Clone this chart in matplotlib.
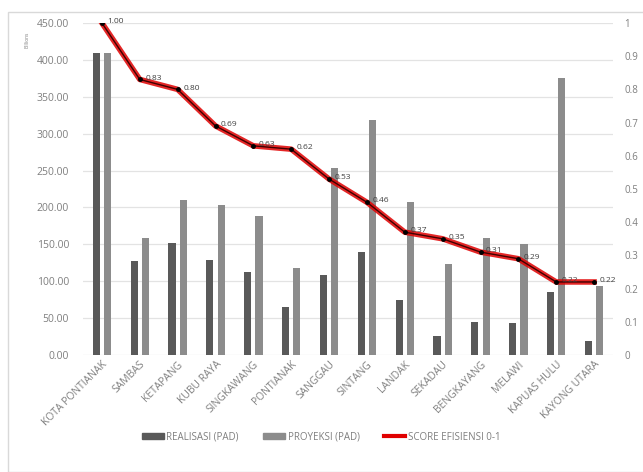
import matplotlib.pyplot as plt
import numpy as np
from matplotlib.patches import Rectangle
from matplotlib.lines import Line2D
from matplotlib.ticker import FixedLocator

plt.rcParams['font.family'] = ['Open Sans', 'DejaVu Sans']

kabupaten = ["KOTA PONTIANAK", "SAMBAS", "KETAPANG", "KUBU RAYA", "SINGKAWANG",
             "PONTIANAK", "SANGGAU", "SINTANG", "LANDAK", "SEKADAU",
             "BENGKAYANG", "MELAWI", "KAPUAS HULU", "KAYONG UTARA"]
realisasi = [410, 127, 152, 129, 113, 65, 109, 139, 74, 26, 45, 44, 85, 19]
proyeksi = [410, 158, 210, 203, 188, 118, 254, 319, 207, 124, 158, 150, 376, 93]
skor = [1.00, 0.83, 0.80, 0.69, 0.63, 0.62, 0.53, 0.46, 0.37, 0.35, 0.31, 0.29, 0.22, 0.22]

fig = plt.figure(figsize=(6.43, 4.72), dpi=100)
fig.patches.append(Rectangle((8 / 643, 0), 1, 1 - 12 / 472, transform=fig.transFigure,
                             fill=False, edgecolor='#d9d9d9', linewidth=1))
ax = fig.add_axes([83 / 643, 117 / 472, 530 / 643, 332 / 472])

x = np.arange(len(kabupaten))
w = 0.19
ax.bar(x - 0.15, realisasi, w, color='#595959', zorder=2)
ax.bar(x + 0.15, proyeksi, w, color='#8c8c8c', zorder=2)
ax.set_xlim(-0.5, len(kabupaten) - 0.5)
ax.set_ylim(0, 450)
ax.yaxis.set_major_locator(FixedLocator(np.arange(0, 451, 50)))
ax.set_yticklabels([f"{v:.2f}" for v in np.arange(0, 451, 50)])
ax.grid(axis='y', color='#e3e3e3', linewidth=0.9, zorder=0)
ax.set_xticks(x)
ax.set_xticklabels(kabupaten, rotation=45, ha='right', rotation_mode='anchor')
ax.tick_params(axis='y', length=0, labelsize=7.5, colors='#7f7f7f', pad=10)
ax.tick_params(axis='x', length=0, labelsize=7.5, colors='#7f7f7f', pad=3)
for s in ax.spines.values():
    s.set_visible(False)
ax.set_axisbelow(True)
fig.text(27 / 643, 1 - 40 / 472, "Billions", rotation=90, fontsize=3.5,
         color='#7f7f7f', ha='center', va='center')

ax2 = ax.twinx()
ax2.plot(x, skor, color='#e00000', linewidth=4, alpha=0.85, zorder=3)
ax2.plot(x, skor, color='#400000', linewidth=1.0, marker='o', markersize=2.5,
         markerfacecolor='black', markeredgecolor='black', zorder=4)
ax2.set_ylim(0, 1)
ax2.yaxis.set_major_locator(FixedLocator(np.arange(0, 1.01, 0.1)))
ax2.set_yticklabels(["0"] + [f"{v:.1f}" for v in np.arange(0.1, 1.0, 0.1)] + ["1"])
ax2.tick_params(axis='y', length=0, labelsize=7, colors='#7f7f7f', pad=8)
for s in ax2.spines.values():
    s.set_visible(False)
for xi, v in zip(x, skor):
    ax2.annotate(f"{v:.2f}", (xi, v), xytext=(4, 1), textcoords='offset points',
                 fontsize=6, color='#404040', va='center', ha='left', zorder=5)

handles = [Rectangle((0, 0), 1, 1, color='#595959'),
           Rectangle((0, 0), 1, 1, color='#8c8c8c'),
           Line2D([0], [0], color='#e00000', linewidth=3)]
fig.legend(handles, ["REALISASI (PAD)", "PROYEKSI (PAD)", "SCORE EFISIENSI 0-1"],
           loc='center', bbox_to_anchor=(0.5, 1 - 437 / 472), ncol=3, frameon=False,
           fontsize=7, labelcolor='#7f7f7f', handlelength=2.2, handleheight=0.6,
           columnspacing=2.5, handletextpad=0.3)

fig.savefig("out.png", dpi=100)
